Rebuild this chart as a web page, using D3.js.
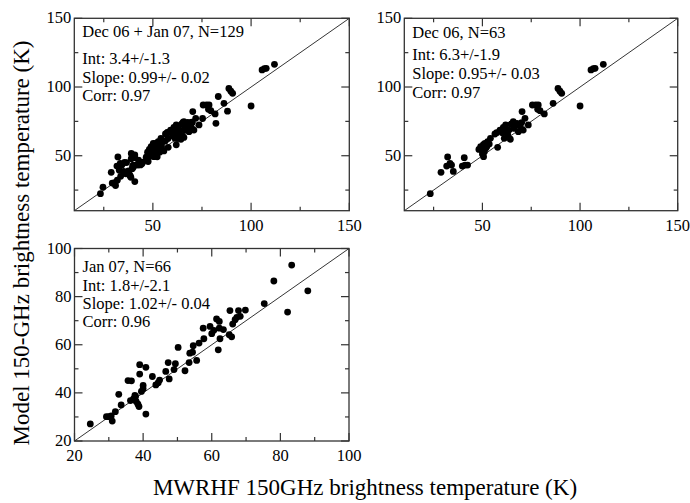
<!DOCTYPE html>
<html><head><meta charset="utf-8">
<script src="https://cdn.jsdelivr.net/npm/d3@7"></script>
<style>body{margin:0;background:#fff}svg{display:block}</style>
</head><body>
<script>
// Dec 06 data: [MWRHF 150GHz, Model 150GHz]
const dec06 = [[23.3,22.4],[28.8,37.9],[31.7,42.5],[32.2,49.1],[33.4,44.5],[34.2,43.2],[35.1,38.6],[39.7,42.5],[40.7,48.6],[41.1,43.2],[42.4,43.2],[49.1,56.6],[49.6,54.2],[50.0,51.2],[50.5,58.0],[51.0,52.9],[51.3,59.0],[51.7,55.4],[52.2,56.6],[52.7,60.2],[54.1,62.7],[57.3,66.8],[57.8,56.1],[60.7,70.7],[61.2,62.7],[61.9,72.4],[63.0,65.1],[63.6,68.7],[64.3,62.0],[64.6,72.9],[65.8,74.8],[66.3,69.9],[67.0,72.4],[67.7,73.6],[68.4,67.5],[69.3,71.6],[70.1,74.1],[70.3,82.1],[70.9,68.7],[71.8,77.2],[73.5,72.4],[75.6,86.9],[77.3,86.9],[78.3,83.8],[78.6,86.9],[79.5,82.8],[81.7,80.4],[86.2,88.1],[88.7,99.0],[89.7,96.9],[90.6,95.4],[100.0,86.2],[105.6,112.4],[106.8,113.4],[107.7,113.6],[111.9,116.5],[56.4,65.8],[59.0,68.7],[48.2,54.6],[50.6,49.3],[61.9,68.7],[60.2,66.8],[53.5,58.5]];
// Jan 07 data
const jan07 = [[24.6,27.1],[29.3,30.1],[30.0,30.1],[30.7,30.4],[31.0,28.3],[31.9,32.2],[32.9,39.4],[33.6,35.0],[35.6,45.1],[36.6,45.0],[36.3,36.8],[37.2,37.5],[37.8,38.5],[38.0,36.4],[38.5,35.3],[38.8,34.3],[39.0,51.7],[39.0,47.8],[39.5,40.6],[40.0,41.7],[40.0,43.1],[40.8,50.6],[40.8,31.2],[42.7,46.8],[43.7,43.3],[44.4,44.2],[44.8,45.3],[46.6,48.9],[47.3,52.6],[47.6,45.8],[49.0,49.7],[49.4,52.1],[50.2,58.9],[52.2,49.2],[53.4,52.6],[53.6,56.5],[54.4,56.9],[54.6,59.6],[55.6,53.5],[56.3,60.7],[57.5,66.9],[57.7,62.5],[59.5,67.6],[60.0,64.6],[60.6,66.0],[61.4,70.7],[61.9,57.9],[62.2,69.7],[62.2,66.9],[62.4,62.5],[63.4,66.3],[65.1,64.2],[65.3,74.2],[65.8,63.3],[66.1,68.6],[66.8,70.4],[67.3,71.4],[67.8,74.2],[68.3,71.8],[69.8,74.4],[75.3,77.1],[78.1,86.5],[82.1,73.6],[83.3,93.1],[88.0,82.4],[37.6,38.9]];
const allData = dec06.concat(jan07);

const labels1 = ["Dec 06 + Jan 07, N=129","Int: 3.4+/-1.3","Slope: 0.99+/- 0.02","Corr: 0.97"];
const labels2 = ["Dec 06, N=63","Int: 6.3+/-1.9","Slope: 0.95+/- 0.03","Corr: 0.97"];
const labels3 = ["Jan 07, N=66","Int: 1.8+/-2.1","Slope: 1.02+/- 0.04","Corr: 0.96"];
const majorA = [50,100,150], minorA = [25,75,125];
const majorB = [20,40,60,80,100], minorB = [30,50,70,90];

const FONT = "'Liberation Serif', 'Times New Roman', Times, serif";
const svg = d3.select("body").append("svg").attr("width",690).attr("height",503)
  .attr("font-family",FONT).style("font-family",FONT);

const panels = [
  {data:allData, dom:[10,150], major:majorA, minor:minorA, labels:labels1, x0:74.3, x1:349.3, y0:18.3, y1:210.7, ty:[37,64,83,101]},
  {data:dec06, dom:[10,150], major:majorA, minor:minorA, labels:labels2, x0:404.3, x1:677.7, y0:18.3, y1:210.7, ty:[38,60,79,98]},
  {data:jan07, dom:[20,100], major:majorB, minor:minorB, labels:labels3, x0:74.5, x1:349, y0:248.5, y1:441, ty:[272,291,309,327]}
];

function txt(sel){ return sel.append("text").attr("font-family",FONT).style("font-family",FONT).attr("fill","#000"); }

panels.forEach(p => {
  const x = d3.scaleLinear().domain(p.dom).range([p.x0,p.x1]);
  const y = d3.scaleLinear().domain(p.dom).range([p.y1,p.y0]);
  const g = svg.append("g");
  const mk = (vals, len) => {
    vals.forEach(v => {
      [[p.y1,-1],[p.y0,1]].forEach(([yy,dir]) => g.append("line").attr("x1",x(v)).attr("x2",x(v)).attr("y1",yy).attr("y2",yy+dir*len).attr("stroke","#333").attr("stroke-width",1.2));
      [[p.x0,1],[p.x1,-1]].forEach(([xx,dir]) => g.append("line").attr("y1",y(v)).attr("y2",y(v)).attr("x1",xx).attr("x2",xx+dir*len).attr("stroke","#333").attr("stroke-width",1.2));
    });
  };
  mk(p.major, 8); mk(p.minor, 4);
  const tickVals = Array.from(new Set(p.dom[0] === 20 ? [20].concat(p.major) : p.major));
  tickVals.forEach(d => {
    txt(g).attr("x",x(d)).attr("y",p.y1+20).attr("text-anchor","middle").attr("font-size",16.5).text(d);
    txt(g).attr("x",p.x0-3).attr("y",y(d)+5).attr("text-anchor","end").attr("font-size",16.5).text(d);
  });
  g.append("line").attr("x1",x(p.dom[0])).attr("y1",y(p.dom[0])).attr("x2",x(p.dom[1])).attr("y2",y(p.dom[1])).attr("stroke","#000").attr("stroke-width",0.8);
  g.selectAll("circle").data(p.data).enter().append("circle")
    .attr("cx",d=>x(d[0])).attr("cy",d=>y(d[1])).attr("r",3.4).attr("fill","#000");
  g.append("rect").attr("x",p.x0).attr("y",p.y0).attr("width",p.x1-p.x0).attr("height",p.y1-p.y0).attr("fill","none").attr("stroke","#333").attr("stroke-width",1.3);
  p.labels.forEach((t,i) => txt(g).attr("x",p.x0+8).attr("y",p.ty[i]).attr("font-size",16.5).text(t));
});

txt(svg).attr("transform","translate(29,243) rotate(-90)").attr("text-anchor","middle").attr("font-size",23).text("Model 150-GHz brightness temperature (K)");
txt(svg).attr("x",365).attr("y",495).attr("text-anchor","middle").attr("font-size",23).text("MWRHF 150GHz brightness temperature (K)");
</script>
</body></html>
